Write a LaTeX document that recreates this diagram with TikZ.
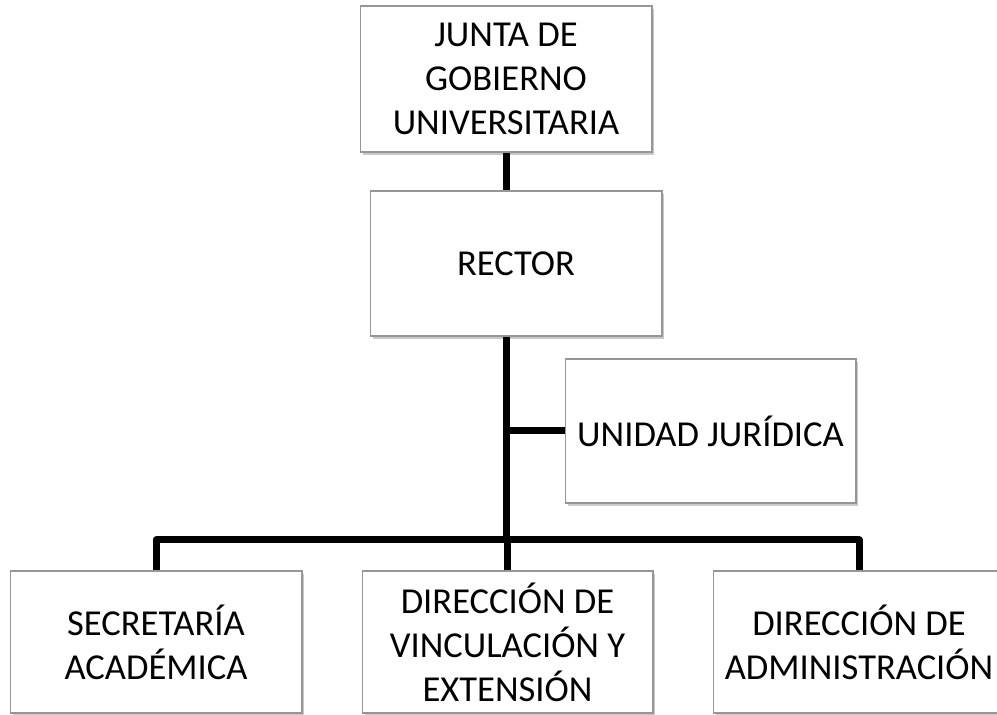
\documentclass[tikz,border=0pt]{standalone}
\usepackage{fontspec}
\setmainfont{Carlito}
\usetikzlibrary{shadows}
\definecolor{boxgray}{RGB}{150,150,150}
\newcommand{\orgfont}{\fontsize{20.8}{25}\selectfont}

\begin{document}
\begin{tikzpicture}[x=0.02cm,y=-0.02cm]

%
% Styles
%
\tikzstyle{unit} = [rectangle,draw=boxgray,fill=white,line width=0.6pt,
  minimum width=5.84cm,align=center,font=\orgfont,
  drop shadow={shadow xshift=0.05cm,shadow yshift=-0.06cm,opacity=0.35,fill=black!60}]
\tikzstyle{link} = [line width=0.14cm,black,line join=round]

\clip (0,0) rectangle (997,715);
\fill[white] (0,0) rectangle (997,715);

\node[unit,minimum height=2.92cm] (junta) at (506, 79)  {JUNTA DE\\GOBIERNO\\UNIVERSITARIA};
\node[unit,minimum height=2.9cm]  (rector) at (516,263.5) {RECTOR};
\node[unit,minimum height=2.88cm,minimum width=5.82cm] (juridica) at (710.5,431) {UNIDAD JUR\'IDICA};
\node[unit,minimum height=2.84cm] (secretaria) at (156,642) {SECRETAR\'IA\\ACAD\'EMICA};
\node[unit,minimum height=2.84cm,minimum width=5.82cm] (vinculacion) at (507.5,642) {DIRECCI\'ON DE\\VINCULACI\'ON Y\\EXTENSI\'ON};
\node[unit,minimum height=2.84cm] (administracion) at (859,642) {DIRECCI\'ON DE\\ADMINISTRACI\'ON};

\coordinate (bar) at (506,540);
\coordinate (tee) at (506,431);

\draw[link] (junta.south) -- (junta.south |- rector.north);
\draw[link] (bar |- rector.south) -- (bar);
\draw[link] (tee) -- (juridica.west);
\draw[link] (secretaria.north) -- (secretaria.north |- bar)
  -- (administracion.north |- bar) -- (administracion.north);
\draw[link] (vinculacion.north) -- (vinculacion.north |- bar);

\end{tikzpicture}
\end{document}
